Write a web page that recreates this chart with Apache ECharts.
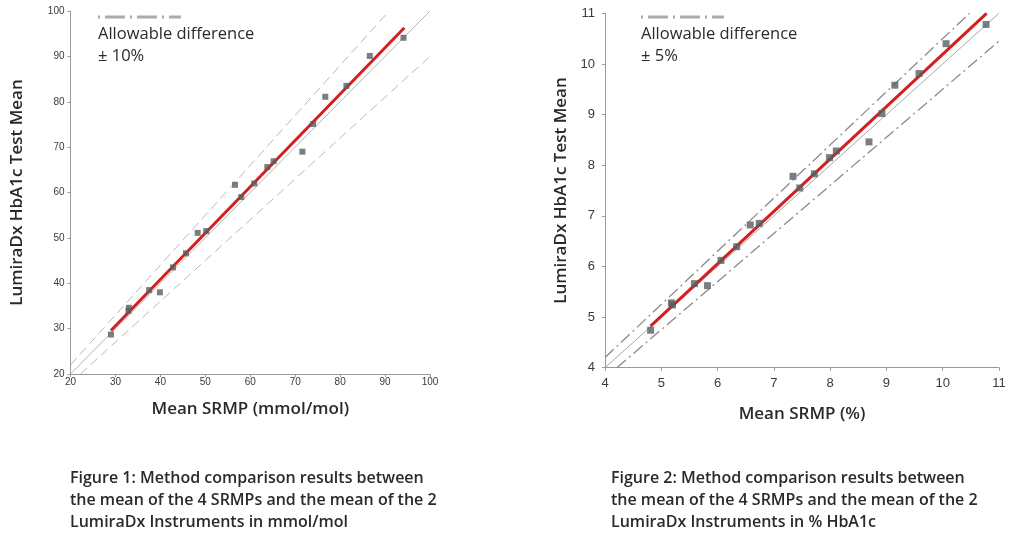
<!DOCTYPE html>
<html><head><meta charset="utf-8">
<script src="https://cdn.jsdelivr.net/npm/echarts@6/dist/echarts.min.js"></script>
<style>html,body{margin:0;padding:0;background:#fff}#c{width:1022px;height:536px}</style>
</head><body><div id="c"></div>
<script>
// ---- Figure 1 (mmol/mol) ----
const leftPoints = [[29.0,28.7],[33.0,34.6],[32.9,33.9],[37.5,38.5],[39.9,38.0],[42.8,43.5],[45.7,46.6],[48.3,51.1],[50.2,51.5],[56.6,61.7],[58.0,59.0],[60.9,62.0],[63.8,65.6],[65.2,66.9],[71.6,69.0],[74.0,75.1],[76.7,81.1],[81.4,83.5],[86.6,90.1],[94.1,94.1]];
const leftFit = [[29.0,29.6],[94.3,96.3]];
const leftIdentity = [[20,20],[100,100]];
const leftUpper = [[20,22],[90.9,100]];
const leftLower = [[22.2,20],[100,90]];
const leftXTicks = [20,30,40,50,60,70,80,90,100];
const leftYTicks = [20,30,40,50,60,70,80,90,100];
// ---- Figure 2 (%) ----
const rightPoints = [[4.81,4.74],[5.18,5.28],[5.20,5.24],[5.59,5.66],[5.82,5.62],[6.06,6.12],[6.34,6.39],[6.58,6.82],[6.74,6.85],[7.34,7.78],[7.46,7.55],[7.72,7.83],[7.99,8.15],[8.11,8.28],[8.69,8.46],[8.92,9.02],[9.15,9.58],[9.58,9.81],[10.06,10.40],[10.77,10.78]];
const rightFit = [[4.81,4.82],[10.78,11.0]];
const rightIdentity = [[4,4],[11,11]];
const rightUpper = [[4,4.2],[10.476,11]];
const rightLower = [[4.21,4],[11,10.45]];
const rightXTicks = [4,5,6,7,8,9,10,11];
const rightYTicks = [4,5,6,7,8,9,10,11];

const legendTitle = 'Allowable difference';
const leftLegendPct = '± 10%';
const rightLegendPct = '± 5%';
const xTitleLeft = 'Mean SRMP (mmol/mol)';
const xTitleRight = 'Mean SRMP (%)';
const yTitle = 'LumiraDx HbA1c Test Mean';
const captionLeft = ['Figure 1: Method comparison results between','the mean of the 4 SRMPs and the mean of the 2','LumiraDx Instruments in mmol/mol'];
const captionRight = ['Figure 2: Method comparison results between','the mean of the 4 SRMPs and the mean of the 2','LumiraDx Instruments in % HbA1c'];

const FONT = '"Open Sans", "DejaVu Sans", sans-serif';
const TXT = '#2a2a2a';

function xAxis(gi, ticks, name, fs, gap, margin){
  return {gridIndex:gi, type:'value', min:ticks[0], max:ticks[ticks.length-1], interval:ticks[1]-ticks[0],
    axisLine:{lineStyle:{color:'#9a9a9a',width:1}}, axisTick:{show:true,length:3,lineStyle:{color:'#9a9a9a'}},
    splitLine:{show:false}, axisLabel:{color:'#3a3a3a',fontSize:fs,fontFamily:'"Liberation Sans", sans-serif',margin:margin},
    name:name, nameLocation:'middle', nameGap:gap, nameTextStyle:{color:TXT,fontSize:17,fontFamily:FONT,fontWeight:600}};
}
function yAxis(gi, ticks, fs, gap, margin){
  return {gridIndex:gi, type:'value', min:ticks[0], max:ticks[ticks.length-1], interval:ticks[1]-ticks[0],
    axisLine:{show:true,lineStyle:{color:'#9a9a9a',width:1}}, axisTick:{show:true,length:3,lineStyle:{color:'#9a9a9a'}},
    splitLine:{show:false}, axisLabel:{color:'#3a3a3a',fontSize:fs,fontFamily:'"Liberation Sans", sans-serif',margin:margin},
    name:yTitle, nameLocation:'middle', nameGap:gap, nameTextStyle:{color:TXT,fontSize:17,fontFamily:FONT,fontWeight:600}};
}
function lineS(gi, data, color, width, type, z){
  return {type:'line', xAxisIndex:gi, yAxisIndex:gi, data:data, symbol:'none', silent:true, z:z,
    lineStyle:{color:color,width:width,type:type}, animation:false};
}
function scatterS(gi, data, size){
  return {type:'scatter', xAxisIndex:gi, yAxisIndex:gi, data:data, symbol:'rect', symbolSize:size, z:5,
    itemStyle:{color:'#5a5e5e'}, animation:false};
}
function textEl(x,y,t,fs,w){
  return {type:'text', left:x, top:y, style:{text:t, fill:TXT, font: (w||500)+' '+fs+'px '+FONT}};
}
function legendLine(x1,y){
  return {type:'line', shape:{x1:x1,y1:y,x2:x1+83,y2:y}, style:{stroke:'#aaaaaa',lineWidth:3,lineDash:[2,5,20,5]}};
}

const chart = echarts.init(document.getElementById('c'), null, {renderer:'canvas'});
chart.setOption({
  animation:false,
  backgroundColor:'#fff',
  grid:[
    {left:70.5, top:11, width:359.5, height:363},
    {left:605, top:13.3, width:394, height:354.4}
  ],
  xAxis:[xAxis(0,leftXTicks,xTitleLeft,10,27,3), xAxis(1,rightXTicks,xTitleRight,13,38,9)],
  yAxis:[yAxis(0,leftYTicks,10,45,6), yAxis(1,rightYTicks,13,35,10)],
  series:[
    lineS(0,leftIdentity,'#b5b5b5',1,'solid',1),
    lineS(0,leftUpper,'#b8b8b8',1,[9,5],1),
    lineS(0,leftLower,'#b8b8b8',1,[9,5],1),
    lineS(0,leftFit,'#d21f1f',3,'solid',3),
    scatterS(0,leftPoints,6),
    lineS(1,rightIdentity,'#a8a8a8',1,'solid',1),
    lineS(1,rightUpper,'#8a8a8a',1.3,[12,4,2,4],1),
    lineS(1,rightLower,'#8a8a8a',1.3,[12,4,2,4],1),
    lineS(1,rightFit,'#d21f1f',3,'solid',3),
    scatterS(1,rightPoints,7)
  ],
  graphic:[
    legendLine(98,17),
    textEl(98,26,legendTitle,16.5,500),
    textEl(98,48,leftLegendPct,16.5,500),
    legendLine(641,17),
    textEl(641,26,legendTitle,16.5,500),
    textEl(641,48,rightLegendPct,16.5,500),
    textEl(70,470,captionLeft[0],16,600),
    textEl(70,492,captionLeft[1],16,600),
    textEl(70,514,captionLeft[2],16,600),
    textEl(611,470,captionRight[0],16,600),
    textEl(611,492,captionRight[1],16,600),
    textEl(611,514,captionRight[2],16,600)
  ]
});
</script></body></html>
